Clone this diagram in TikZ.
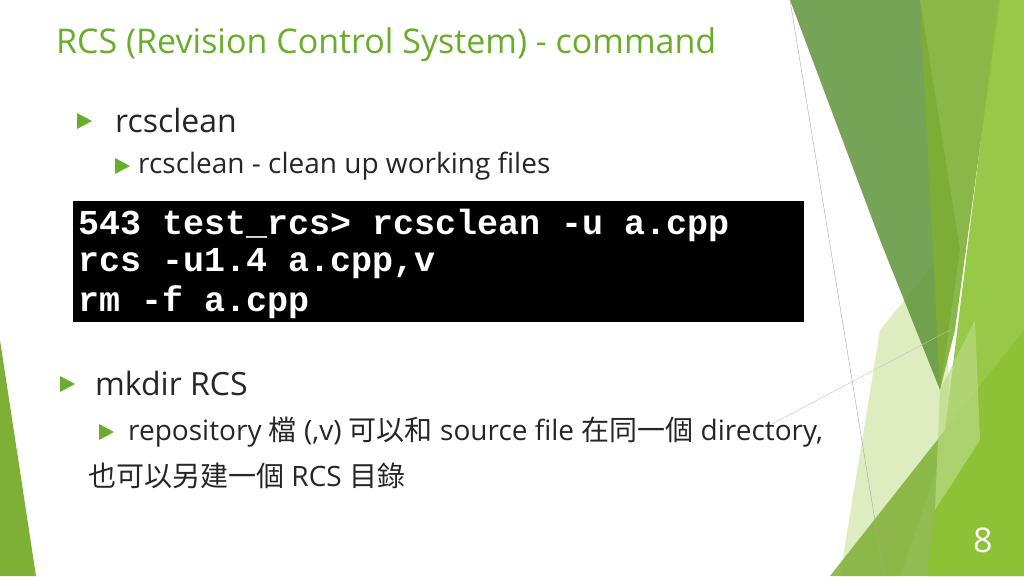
\documentclass[tikz,border=0pt]{standalone}
\usepackage{fontspec}
\setmainfont{Open Sans}
\setmonofont{Liberation Mono}
\newfontfamily\cjk{Noto Sans CJK TC}
\usetikzlibrary{positioning}
\definecolor{titlegreen}{HTML}{6AAC2B}
\definecolor{darkgreen}{HTML}{5E9438}
\definecolor{midgreen}{HTML}{7DB034}
\definecolor{limegreen}{HTML}{8DC233}
\definecolor{palegreen}{HTML}{D6E8B0}
\tikzstyle{txt}=[anchor=west, inner sep=0pt, text=black!85]
\tikzstyle{term}=[anchor=west, inner sep=0pt, text=white, font=\ttfamily\bfseries\fontsize{35}{35}\selectfont]
\newcommand{\tri}[2]{\fill[titlegreen] (#1-7,#2-8) -- (#1+8,#2) -- (#1-7,#2+8) -- cycle;}
\begin{document}
\begin{tikzpicture}[x=1pt,y=-1pt]
  \useasboundingbox (0,0) rectangle (1024,576);
  % decoration on the right
  \fill[palegreen, opacity=0.8] (840,576) -- (880,330) -- (945,250) -- (950,430) -- (900,576) -- cycle;
  \fill[darkgreen, opacity=0.85] (790,0) -- (920,0) -- (960,250) -- (940,390) -- (880,240) -- cycle;
  \fill[midgreen, opacity=0.9] (920,0) -- (1000,0) -- (955,330) -- (940,390) -- cycle;
  \fill[midgreen, opacity=0.85] (830,576) -- (1024,330) -- (1024,576) -- cycle;
  \fill[limegreen, opacity=0.9] (998,0) -- (1024,0) -- (1024,576) -- (927,576) -- cycle;
  \fill[limegreen!60, opacity=0.7] (940,390) -- (975,320) -- (980,440) -- (935,510) -- cycle;
  \draw[gray!70, line width=0.4pt] (790,0) -- (884,576);
  \draw[gray!50, line width=0.4pt] (770,425) -- (950,330);
  % left edge
  \fill[midgreen] (0,340) -- (36,576) -- (0,576) -- cycle;
  % texts
  \node[txt, text=titlegreen, font=\fontsize{34}{34}\selectfont] (title) at (56,45) {RCS (Revision Control System) - command};
  \tri{84}{121}
  \node[txt, font=\fontsize{32}{32}\selectfont] (rc) at (115,120) {rcsclean};
  \tri{122}{166}
  \node[txt, font=\fontsize{28}{28}\selectfont] (rcsub) at (138,166) {rcsclean - clean up working files};
  % terminal
  \fill[black] (73,201) rectangle (804,322);
  \node[term] (l1) at (78,225) {543 test\_rcs> rcsclean -u a.cpp};
  \node[term] (l2) at (78,264) {rcs -u1.4 a.cpp,v};
  \node[term] (l3) at (78,302) {rm -f a.cpp};
  \tri{67}{384}
  \node[txt, font=\fontsize{32}{32}\selectfont] (mk) at (95,383) {mkdir RCS};
  \tri{106}{432}
  \node[txt, font=\fontsize{28}{28}\selectfont] (mksub) at (128,432) {repository {\cjk 檔} (,v) {\cjk 可以和} source file {\cjk 在同一個} directory,};
  \node[txt, font=\fontsize{28}{28}\selectfont] (mksub2) at (88,476) {{\cjk 也可以另建一個} RCS {\cjk 目錄}};
  \node[txt, text=white, font=\fontsize{34}{34}\selectfont] (page) at (973,540) {8};
\end{tikzpicture}
\end{document}
